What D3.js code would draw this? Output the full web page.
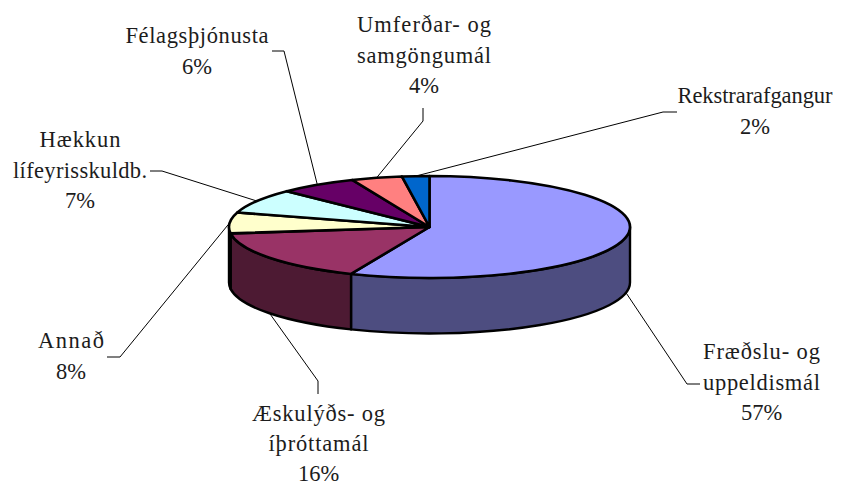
<!DOCTYPE html>
<html><head><meta charset="utf-8">
<style>html,body{margin:0;padding:0;background:#fff}svg{display:block}</style>
<script src="https://cdnjs.cloudflare.com/ajax/libs/d3/7.9.0/d3.min.js"></script>
</head><body><svg id="c" width="847" height="486"></svg>
<script>
// Data
const categories = ["Fræðslu- og uppeldismál","Æskulýðs- og íþróttamál","Annað","Hækkun lífeyrisskuldb.","Félagsþjónusta","Umferðar- og samgöngumál","Rekstrarafgangur"];
const percentLabels = ["57%","16%","8%","7%","6%","4%","2%"];
// slice shares as drawn in the picture (the printed labels are rounded differently)
const sliceShares = [56.4,16.6,6.6,7.8,6.3,4.1,2.2];
const labelLines = [["Fræðslu- og","uppeldismál"],["Æskulýðs- og","íþróttamál"],["Annað"],["Hækkun","lífeyrisskuldb."],["Félagsþjónusta"],["Umferðar- og","samgöngumál"],["Rekstrarafgangur"]];
const topColors = ["#9999FF","#993366","#FFFFCC","#CCFFFF","#660066","#FF8080","#0066CC"];
const sideColors = ["#4D4D80","#4D1A33","#80805F","#668080","#330033","#804040","#003366"];

// Layout
const cx=429.5, cy=227, rx=200.5, ry=51, depth=55.5;
const labelLayout = [
  {x:761.5,y:359,step:30.5,widths:[117,117,0],bend:[[687,384],[700,384]]},
  {x:318.5,y:421,step:30,widths:[133,100,0],bend:[[318,381],[318,394]]},
  {x:71,y:348,step:30.5,widths:[66,0],bend:[[120,357],[107,357]]},
  {x:80,y:147,step:30.5,widths:[81,134,0],bend:[[162,171],[150,171]]},
  {x:197,y:43,step:30.5,widths:[143,0],bend:[[284,51],[272,51]]},
  {x:424,y:32,step:30.5,widths:[134,134,0],bend:[[423,121],[423,108]]},
  {x:755,y:103,step:30.5,widths:[155,0],bend:[[663,112],[677,112]]}
];

const svg=d3.select("#c");
const pie=d3.pie().sort(null).startAngle(0).endAngle(2*Math.PI);
const slices=pie(sliceShares);
const xs=d3.scaleLinear().domain([-1,1]).range([cx-rx,cx+rx]);
const ys=d3.scaleLinear().domain([-1,1]).range([cy-ry,cy+ry]);
const px=a=>xs(Math.sin(a));
const py=a=>ys(-Math.cos(a));

// leaders
const leader=d3.line();
svg.append("g").selectAll("path").data(slices).join("path")
  .attr("d",(s,i)=>{
    const mid=(s.startAngle+s.endAngle)/2;
    const front=Math.cos(mid)<0;
    const anchor=[px(mid),py(mid)+(front?depth:0)];
    return leader([anchor,...labelLayout[i].bend]);
  })
  .attr("fill","none").attr("stroke","#000").attr("stroke-width",1);

// sides
const sideVisible=slices.filter(s=>s.startAngle<1.5*Math.PI&&s.endAngle>0.5*Math.PI);
svg.append("g").selectAll("path").data(sideVisible).join("path")
  .attr("d",s=>{
    const a0=Math.max(s.startAngle,0.5*Math.PI),a1=Math.min(s.endAngle,1.5*Math.PI);
    return `M${px(a0)},${py(a0)}A${rx},${ry} 0 0 1 ${px(a1)},${py(a1)}L${px(a1)},${py(a1)+depth}A${rx},${ry} 0 0 0 ${px(a0)},${py(a0)+depth}Z`;
  })
  .attr("fill",s=>sideColors[s.index])
  .attr("stroke","#000").attr("stroke-width",2.4).attr("stroke-linejoin","round");

// top face
const arc=d3.arc().innerRadius(0).outerRadius(rx);
svg.append("g").attr("transform",`translate(${cx},${cy}) scale(1,${ry/rx})`)
  .selectAll("path").data(slices).join("path")
  .attr("d",arc)
  .attr("fill",s=>topColors[s.index])
  .attr("stroke","#000").attr("stroke-width",2.6).attr("stroke-linejoin","round")
  .attr("vector-effect","non-scaling-stroke");

// labels
const g=svg.append("g").attr("font-family","'Liberation Serif',serif").attr("font-size",22.5).attr("fill","#1c1c1c").attr("text-anchor","middle");
categories.forEach((c,i)=>{
  const L=labelLayout[i];
  [...labelLines[i],percentLabels[i]].forEach((t,k)=>{
    const el=g.append("text").attr("x",L.x).attr("y",L.y+k*L.step).text(t);
    if(L.widths[k]) el.attr("textLength",L.widths[k]).attr("lengthAdjust","spacing");
  });
});
</script></body></html>
